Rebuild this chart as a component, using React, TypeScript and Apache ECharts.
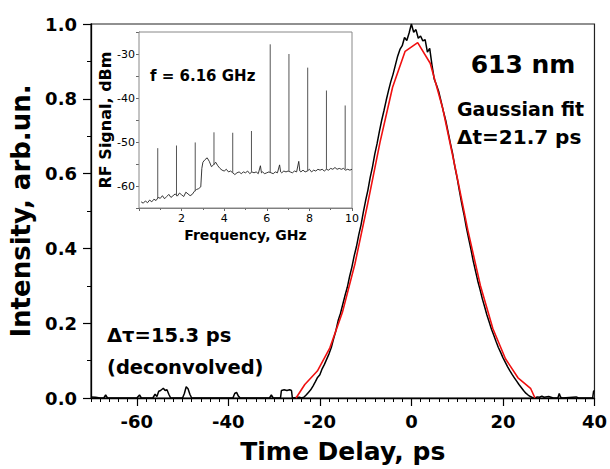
import React, { useEffect, useRef } from "react";
import * as echarts from "echarts";

// ---------- main plot: autocorrelation trace (time delay ps, intensity) ----------
const acLeftBaseline: [number, number][] = [
  [-70, 0.003], [-69, 0.002], [-68, 0], [-67.2, 0], [-66.8, 0.008], [-66.4, 0],
  [-63, 0], [-60, 0], [-59.4, 0.008], [-59, 0], [-56.5, 0], [-56, 0.01],
  [-55.6, 0.004], [-55.2, 0.018], [-54.8, 0.02], [-54.2, 0.026], [-53.8, 0.02],
  [-53.4, 0.022], [-53, 0.01], [-52.6, 0], [-50, 0], [-49.6, 0.012], [-49.2, 0.03],
  [-48.8, 0.025], [-48.4, 0.01], [-48, 0], [-39, 0], [-38.6, 0.012], [-38.2, 0.015],
  [-37.8, 0.005], [-37.4, 0], [-31, 0], [-30.6, 0.008], [-30.2, 0], [-28.6, 0],
  [-28.4, 0.02], [-27.8, 0.022], [-27.2, 0.02], [-26.6, 0.022], [-26.2, 0.02],
  [-26, 0], [-24.5, 0.002],
];
const acPulse: [number, number][] = [
  [-24, 0], [-23.5, 0.002], [-23, 0.008], [-22.5, 0.015], [-22, 0.022], [-21.5, 0.032],
  [-21, 0.043], [-20.5, 0.055], [-20, 0.062], [-19.5, 0.078], [-19, 0.09], [-18.5, 0.104],
  [-18, 0.118], [-17.5, 0.135], [-17, 0.158], [-16.5, 0.18], [-16, 0.207], [-15.5, 0.226],
  [-15, 0.25], [-14.5, 0.274], [-14, 0.296], [-13.5, 0.325], [-13, 0.35], [-12.5, 0.38],
  [-12, 0.405], [-11.5, 0.436], [-11, 0.463], [-10.5, 0.497], [-10, 0.528], [-9.5, 0.556],
  [-9, 0.59], [-8.5, 0.618], [-8, 0.652], [-7.5, 0.68], [-7, 0.712], [-6.5, 0.742],
  [-6, 0.768], [-5.5, 0.796], [-5, 0.822], [-4.5, 0.846], [-4, 0.866], [-3.5, 0.89],
  [-3, 0.914], [-2.5, 0.932], [-2, 0.942], [-1.5, 0.964], [-1, 0.956], [-0.5, 0.976],
  [0, 1.0], [0.5, 0.978], [1, 0.985], [1.5, 0.962], [2, 0.968], [2.5, 0.955],
  [3, 0.958], [3.5, 0.925], [4, 0.935], [4.5, 0.89], [5, 0.852], [5.5, 0.836],
  [6, 0.818], [6.5, 0.792], [7, 0.766], [7.5, 0.742], [8, 0.712], [8.5, 0.682],
  [9, 0.654], [9.5, 0.618], [10, 0.588], [10.5, 0.553], [11, 0.52], [11.5, 0.49],
  [12, 0.456], [12.5, 0.427], [13, 0.398], [13.5, 0.367], [14, 0.34], [14.5, 0.313],
  [15, 0.29], [15.5, 0.265], [16, 0.244], [16.5, 0.222], [17, 0.203], [17.5, 0.184],
  [18, 0.168], [18.5, 0.151], [19, 0.135], [19.5, 0.122], [20, 0.108], [20.5, 0.096],
  [21, 0.084], [21.5, 0.073], [22, 0.063], [22.5, 0.054], [23, 0.045], [23.5, 0.036],
  [24, 0.028], [24.5, 0.02], [25, 0.013], [25.5, 0.008], [26, 0.004], [26.5, 0.001], [27, 0],
];
const acRightBaseline: [number, number][] = [
  [27.5, 0.003], [28, 0.002], [28.5, 0.005], [29, 0.002], [30, 0.004], [31, 0], [32, 0],
  [32.3, 0.012], [32.6, 0.002], [33, 0], [36, 0.003], [36.5, 0], [39.6, 0], [39.8, 0.018], [40, 0.02],
];
const gaussFit: [number, number][] = [
  [-25.2, 0], [-23.29, 0.036], [-20.55, 0.072], [-17.81, 0.134], [-15.07, 0.229],
  [-12.33, 0.359], [-9.59, 0.517], [-6.85, 0.684], [-4.11, 0.831], [-1.37, 0.927],
  [1.37, 0.95], [4.11, 0.895], [6.85, 0.774], [9.59, 0.615], [12.33, 0.449],
  [15.07, 0.301], [17.81, 0.185], [20.55, 0.105], [23.29, 0.054], [26.03, 0.026], [27, 0],
];
const xMajorTicks = [-60, -40, -20, 0, 20, 40];

// ---------- inset: RF spectrum (GHz, dBm) ----------
const specBaseline: [number, number][] = [
  [0.1, -63.6], [0.2, -63.9], [0.3, -63.4], [0.4, -63.8], [0.5, -63.2], [0.6, -63.6],
  [0.7, -63.0], [0.8, -63.3], [0.9, -62.6], [1.0, -62.8], [1.1, -62.2], [1.2, -62.9],
  [1.3, -62.4], [1.4, -61.9], [1.5, -62.6], [1.6, -62.2], [1.7, -61.8], [1.8, -62.3],
  [1.9, -61.6], [2.0, -62.0], [2.1, -62.4], [2.2, -61.4], [2.3, -61.8], [2.4, -62.2],
  [2.5, -61.9], [2.6, -61.2], [2.7, -60.8], [2.8, -60.6], [2.9, -60.2], [2.95, -56.0],
  [3.0, -54.6], [3.1, -54.0], [3.2, -53.6], [3.3, -54.4], [3.4, -55.6], [3.5, -55.2],
  [3.6, -54.6], [3.7, -55.4], [3.8, -56.0], [3.9, -56.4], [4.0, -56.6], [4.1, -56.2],
  [4.2, -56.8], [4.3, -56.6], [4.4, -57.0], [4.5, -57.4], [4.6, -57.0], [4.7, -56.8],
  [4.8, -57.2], [4.9, -56.8], [5.0, -57.0], [5.1, -56.6], [5.2, -57.2], [5.3, -56.8],
  [5.4, -57.0], [5.5, -56.8], [5.6, -57.2], [5.7, -55.4], [5.75, -57.0], [5.8, -56.8],
  [5.9, -57.2], [6.0, -57.0], [6.1, -56.8], [6.2, -57.0], [6.3, -57.2], [6.4, -56.8],
  [6.5, -57.0], [6.6, -55.2], [6.65, -56.8], [6.7, -57.0], [6.8, -56.6], [6.9, -56.8],
  [7.0, -56.6], [7.1, -56.8], [7.2, -57.0], [7.3, -56.6], [7.4, -56.8], [7.5, -54.4],
  [7.55, -56.6], [7.6, -56.8], [7.7, -56.4], [7.8, -56.8], [7.9, -56.6], [8.0, -56.2],
  [8.1, -56.8], [8.2, -56.4], [8.3, -56.6], [8.4, -56.2], [8.5, -56.4], [8.6, -56.2],
  [8.7, -56.6], [8.8, -56.2], [8.9, -56.4], [9.0, -56.0], [9.1, -56.2], [9.2, -55.8],
  [9.3, -56.2], [9.4, -56.0], [9.5, -56.2], [9.6, -56.0], [9.7, -56.4], [9.8, -56.2],
  [9.9, -56.4], [10.0, -56.2],
];
// [frequency GHz, floor dBm, peak dBm]
const specPeaks: [number, number, number][] = [
  [0.88, -62.8, -51.4], [1.76, -62.3, -50.8], [2.64, -61.2, -50.1], [3.52, -55.2, -47.8],
  [4.40, -57.0, -47.9], [5.28, -56.8, -47.5], [6.16, -57.0, -27.8], [7.04, -56.6, -30.0],
  [7.92, -56.6, -33.1], [8.80, -56.2, -38.3], [9.68, -56.2, -41.7],
];

const FONT = "DejaVu Sans";

export default function App() {
  const ref = useRef<HTMLDivElement>(null);
  useEffect(() => {
    if (!ref.current) return;
    const chart = echarts.init(ref.current, undefined, { renderer: "svg" });
    const peakSegments: any[] = [];
    specPeaks.forEach(([f, lo, hi]) => {
      peakSegments.push([f, lo], [f, hi], [f, "-"]);
    });
    const txt = (text: string, x: number, y: number, size: number, align = "left") => ({
      type: "text",
      x,
      y,
      z: 100,
      style: {
        text,
        fill: "#000",
        font: `bold ${size}px "${FONT}"`,
        align,
        verticalAlign: "middle",
      },
    });
    chart.setOption({
      animation: false,
      backgroundColor: "#fff",
      grid: [
        { left: 91, right: 13, top: 24, bottom: 71, show: true, borderColor: "#222", borderWidth: 1.2, backgroundColor: "transparent" },
        { left: 139, top: 32, width: 213, height: 176, show: true, borderColor: "#888", borderWidth: 1, backgroundColor: "#fff", z: 5 },
      ],
      xAxis: [
        {
          type: "value", gridIndex: 0, min: -70, max: 40, interval: 2, position: "bottom",
          axisLine: { show: true, onZero: false, lineStyle: { color: "#000", width: 1.3 } },
          axisTick: { show: true, inside: false, length: 4, lineStyle: { color: "#000", width: 1 } },
          axisLabel: {
            show: true, margin: 14, color: "#000", fontFamily: FONT, fontWeight: "bold", fontSize: 18,
            formatter: (v: number) => (xMajorTicks.includes(Math.round(v)) && Math.abs(v - Math.round(v)) < 1e-6 ? String(Math.round(v)) : ""),
          },
          splitLine: { show: false },
          name: "Time Delay, ps", nameLocation: "middle", nameGap: 41,
          nameTextStyle: { color: "#000", fontFamily: FONT, fontWeight: "bold", fontSize: 25 },
        },
        {
          type: "value", gridIndex: 0, min: -70, max: 40, position: "bottom",
          axisLine: { show: false, onZero: false },
          axisTick: { show: true, customValues: xMajorTicks, length: 8, lineStyle: { color: "#000", width: 1.2 } },
          axisLabel: { show: false },
          splitLine: { show: false },
        },
        {
          type: "value", gridIndex: 1, min: 0, max: 10, interval: 2, position: "bottom",
          axisLine: { show: true, onZero: false, lineStyle: { color: "#777", width: 1 } },
          axisTick: { show: true, length: 3, lineStyle: { color: "#666" } },
          minorTick: { show: true, splitNumber: 2, length: 2, lineStyle: { color: "#666" } },
          axisLabel: { show: true, showMinLabel: false, margin: 5, color: "#000", fontFamily: FONT, fontSize: 11 },
          splitLine: { show: false },
          name: "Frequency, GHz", nameLocation: "middle", nameGap: 20,
          nameTextStyle: { color: "#000", fontFamily: FONT, fontWeight: "bold", fontSize: 14 },
        },
      ],
      yAxis: [
        {
          type: "value", gridIndex: 0, min: 0, max: 1, interval: 0.2, position: "left",
          axisLine: { show: true, onZero: false, lineStyle: { color: "#000", width: 1.3 } },
          axisTick: { show: true, length: 8, lineStyle: { color: "#000", width: 1.2 } },
          minorTick: { show: true, splitNumber: 2, length: 4, lineStyle: { color: "#000", width: 1 } },
          axisLabel: {
            margin: 14, color: "#000", fontFamily: FONT, fontWeight: "bold", fontSize: 18,
            formatter: (v: number) => v.toFixed(1),
          },
          splitLine: { show: false },
          name: "Intensity, arb.un.", nameLocation: "middle", nameGap: 54,
          nameTextStyle: { color: "#000", fontFamily: FONT, fontWeight: "bold", fontSize: 26 },
        },
        {
          type: "value", gridIndex: 1, min: -65, max: -25, interval: 5, position: "left",
          axisLine: { show: true, onZero: false, lineStyle: { color: "#777", width: 1 } },
          axisTick: { show: true, length: 3, lineStyle: { color: "#666" } },
          axisLabel: {
            margin: 4, color: "#000", fontFamily: FONT, fontSize: 11,
            formatter: (v: number) => (v % 10 === 0 ? String(v) : ""),
          },
          splitLine: { show: false },
          name: "RF Signal, dBm", nameLocation: "middle", nameGap: 26,
          nameTextStyle: { color: "#000", fontFamily: FONT, fontWeight: "bold", fontSize: 16 },
        },
      ],
      series: [
        {
          type: "line", xAxisIndex: 0, yAxisIndex: 0, showSymbol: false, z: 3,
          data: [...acLeftBaseline, ...acPulse, ...acRightBaseline],
          lineStyle: { color: "#000", width: 1.5 },
        },
        {
          type: "line", xAxisIndex: 0, yAxisIndex: 0, showSymbol: false, z: 4,
          data: gaussFit,
          lineStyle: { color: "#f01010", width: 1.6 },
        },
        {
          type: "line", xAxisIndex: 2, yAxisIndex: 1, showSymbol: false, z: 6,
          data: specBaseline,
          lineStyle: { color: "#222", width: 0.9 },
        },
        {
          type: "line", xAxisIndex: 2, yAxisIndex: 1, showSymbol: false, z: 6,
          data: peakSegments, connectNulls: false,
          lineStyle: { color: "#555", width: 1 },
        },
      ],
      graphic: [
        txt("613 nm", 523, 64, 25, "center"),
        txt("Gaussian fit", 457, 108.5, 19),
        txt("\u0394t=21.7 ps", 457, 137, 20),
        txt("\u0394\u03c4=15.3 ps", 107, 335.5, 19.5),
        txt("(deconvolved)", 107, 367, 19.5),
        { ...txt("f = 6.16 GHz", 150, 75.5, 15), z: 200 },
      ],
    });
    return () => chart.dispose();
  }, []);
  return <div ref={ref} style={{ position: "fixed", left: 0, top: 0, width: 610, height: 469 }} />;
}
